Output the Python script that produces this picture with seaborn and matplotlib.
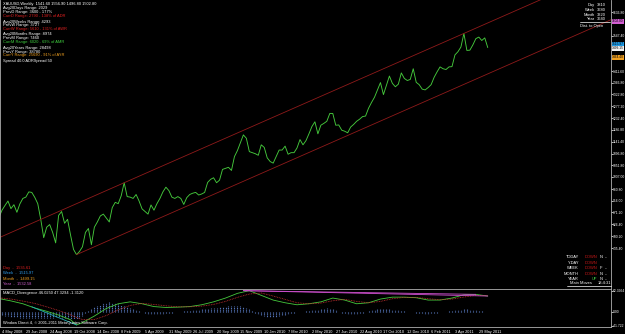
import numpy as np
import pandas as pd
import matplotlib
matplotlib.use("Agg")
import matplotlib.pyplot as plt
import matplotlib.transforms as mtrans
import seaborn as sns

# ---------------- data ----------------
# weekly closes, bar index -1 (27 Apr 2008) ... 163 (19 Jun 2011)
closes = [853, 880, 898, 915, 886, 901, 872, 904, 925, 930, 950, 948, 929, 905, 845, 775,
          815, 825, 795, 755, 860, 875, 830, 845, 785, 730, 710, 722, 740, 795, 810, 748,
          815, 835, 858, 865, 850, 835, 890, 910, 905, 935, 985, 932, 930, 925, 940, 915,
          885, 875, 865, 900, 880, 905, 925, 950, 968, 955, 930, 925, 932, 925, 902, 928,
          940, 945, 948, 938, 942, 948, 986, 998, 1004, 985, 995, 1036, 1040, 1044, 1032,
          1085, 1108, 1138, 1168, 1155, 1104, 1100, 1096, 1090, 1130, 1120, 1080, 1066, 1060,
          1085, 1110, 1110, 1125, 1094, 1100, 1100, 1118, 1150, 1130, 1146, 1172, 1200, 1218,
          1172, 1205, 1212, 1220, 1250, 1250, 1205, 1206, 1186, 1182, 1176, 1198, 1208, 1220,
          1228, 1238, 1240, 1270, 1292, 1312, 1340, 1368, 1322, 1358, 1393, 1365, 1352, 1362,
          1405, 1384, 1376, 1380, 1421, 1369, 1360, 1343, 1340, 1349, 1360, 1388, 1409, 1428,
          1421, 1418, 1428, 1429, 1474, 1486, 1504, 1556, 1491, 1492, 1512, 1536, 1542, 1529,
          1539, 1502]
first_bar = -1

# channel: upper line through two peaks, lower parallel through the low
channel_upper_idx = [41, 155]
channel_upper_price = [985, 1556]
channel_lower_idx = 25
channel_lower_price = 710

# MACD sub-window
macd_idx = [-1, 3, 7, 11, 15, 19, 23, 25, 27, 31, 35, 39, 43, 47, 51, 55, 59, 63, 67, 71, 75,
            79, 83, 87, 91, 95, 99, 103, 107, 111, 115, 119, 123, 127, 131, 135, 139, 143,
            147, 151, 155, 159, 163]
macd_main = [38.5, 31.5, 23, 10.4, 0.6, -10.7, -24.7, -40, -33, -13.5, 9, 23, 28.7, 23, 14.6,
             12, 13, 14.6, 20, 28.7, 40, 54, 62, 48, 34, 26, 20, 23, 28.7, 40, 34, 23, 26, 37,
             42.7, 42.7, 41, 34, 34, 40, 49.8, 51, 46]
macd_signal = [41, 37, 31, 24, 14, 3, -10, -18, -24, -24, -12, 5, 18, 24, 21, 17, 14, 14, 16,
               21, 30, 42, 52, 55, 46, 36, 26, 23, 25, 32, 36, 30, 26, 30, 38, 42, 42, 38, 35,
               37, 43, 48, 47.3]
macd_hist = [-8, -10, -12, -14, -15, -16, -17, -18, -18, -19, -19, -20,
             -20, -20, -19, -19, -18, -18, -18, -17, -17, -18, -19, -20,
             -21, -22, -22, -18, -12, -5, 2, 8,
             12, 16, 20, 24, 26, 27, 26, 24, 22, 19, 16, 13,
             10, 7, 4, 1, -2, -4, -6, -7, -8, -8, -7, -6,
             -5, -4, -3, -2, -1, 0, 1, 1, 2, 3, 4, 5,
             6, 7, 8, 9, 10, 11, 12, 13, 14, 15, 15, 16,
             16, 15, 13, 10, 6, 2, -3, -7, -10, -13, -15, -16,
             -16, -15, -13, -11, -9, -7, -5, -3, -2, -1, 0, 1,
             2, 3, 4, 5, 7, 8, 9, 8, 6, 3, 0, -3,
             -5, -7, -8, -8, -7, -5, -3, -1, 1, 3, 5, 7,
             8, 8, 7, 6, 5, 4, 3, 2, 1, 0, -1, -2,
             -3, -4, -5, -6, -6, -5, -4, -3, -2, -1, 0, 1,
             2, 3, 4, 5, 6, 6, 5, 4, 3, 2, 1, 0, -1]
div_pink_idx = [[81, 159], [81, 163]]
div_pink_val = [[62, 51], [62, 46]]
div_cyan_idx = [10, 25]
div_cyan_val = [14, -40]

price_ticks = [735.40, 780.20, 826.40, 871.20, 916.00, 960.80, 1007.00, 1051.80, 1096.80,
               1141.40, 1186.80, 1232.40, 1277.20, 1322.80, 1366.80, 1411.60, 1547.40, 1636.80]
macd_ticks = [62.3964, 0.0, -41.722]
macd_tick_labels = ["62.3964", "0.00", "-41.722"]

date_labels = ["4 May 2008", "29 Jun 2008", "24 Aug 2008", "19 Oct 2008", "14 Dec 2008",
               "8 Feb 2009", "5 Apr 2009", "31 May 2009", "26 Jul 2009", "20 Sep 2009",
               "15 Nov 2009", "10 Jan 2010", "7 Mar 2010", "2 May 2010", "27 Jun 2010",
               "22 Aug 2010", "17 Oct 2010", "12 Dec 2010", "6 Feb 2011", "3 Apr 2011",
               "29 May 2011"]
date_idx = [8 * k for k in range(len(date_labels))]

price_tags = [1602.00, 1515.97, 1499.15, 1464.40]
price_tag_colors = ["#d35fd3", "#1e9be6", "#f2f2f2", "#f0a020"]

# ---------------- styling ----------------
sns.set_style("dark", {"axes.facecolor": "black", "figure.facecolor": "black"})
plt.rcParams["font.family"] = ["Liberation Sans", "DejaVu Sans"]

W, H = 625, 334
fig = plt.figure(figsize=(W / 100, H / 100), dpi=100, facecolor="black")


def fx(px):
    return px / W


def fy(py):
    return 1 - py / H


FS = 2.9
AXFS = 2.45
WHITE = "#ffffff"
GREY = "#b0b0b0"
CHAN = "#8e1a1a"

# pixel <-> data mapping
x_per_bar = 2.98
x0_px = 2.0
xlim = ((0 - x0_px) / x_per_bar, (611 - x0_px) / x_per_bar)
p_per_px = (1636.8 - 735.4) / (248.0 - 12.3)
ylim_main = (1636.8 - (289 - 12.3) * p_per_px, 1636.8 + 12.3 * p_per_px)

ax = fig.add_axes([0, fy(289), fx(611), 289 / H])
ax.set_facecolor("black")
ax.set_xlim(*xlim)
ax.set_ylim(*ylim_main)

idx = np.arange(first_bar, first_bar + len(closes))
df = pd.DataFrame({"bar": idx, "close": closes})
sns.lineplot(data=df, x="bar", y="close", ax=ax, color="#45c83c", linewidth=0.65)

slope = (channel_upper_price[1] - channel_upper_price[0]) / (channel_upper_idx[1] - channel_upper_idx[0])
xr = xlim[1] + 5
up_x = [first_bar, xr]
up_y = [channel_upper_price[0] + slope * (v - channel_upper_idx[0]) for v in up_x]
lo_x = [channel_lower_idx, xr]
lo_y = [channel_lower_price + slope * (v - channel_lower_idx) for v in lo_x]
sns.lineplot(x=up_x, y=up_y, ax=ax, color=CHAN, linewidth=0.6)
sns.lineplot(x=lo_x, y=lo_y, ax=ax, color=CHAN, linewidth=0.6)

ax.set_xlabel("")
ax.set_ylabel("")
ax.set_xticks([])
ax.yaxis.tick_right()
ax.set_yticks(price_ticks)
ax.set_yticklabels([f"{v:.2f}" for v in price_ticks])
ax.tick_params(axis="y", colors=WHITE, labelsize=AXFS, length=1.2, width=0.5, pad=0.3,
               labelcolor=WHITE, right=True, left=False)
ax.spines["top"].set_visible(False)
for s in ["left", "right", "bottom"]:
    ax.spines[s].set_visible(True)
    ax.spines[s].set_color(GREY)
    ax.spines[s].set_linewidth(0.6)
ax.grid(False)

blend = mtrans.blended_transform_factory(ax.transAxes, ax.transData)
for val, col in zip(price_tags, price_tag_colors):
    ax.text(1.0015, val, f"{val:.2f}", transform=blend, fontsize=AXFS * 0.95, color="black",
            va="center", ha="left", clip_on=False,
            bbox=dict(facecolor=col, edgecolor="none", pad=0.25))

# ---------------- MACD ----------------
m_per_px = (62.3964 + 41.722) / (326.5 - 291.5)
zero_px = 311.5
axm = fig.add_axes([0, fy(327), fx(611), (327 - 289.5) / H])
axm.set_facecolor("black")
axm.set_xlim(*xlim)
axm.set_ylim(-(327 - zero_px) * m_per_px, (zero_px - 289.5) * m_per_px)
hidx = np.arange(first_bar, first_bar + len(macd_hist))
axm.vlines(hidx, 0, macd_hist, color="#5a7cc4", linewidth=0.8, linestyles=(0, (1, 0.6)))
sns.lineplot(x=macd_idx, y=macd_main, ax=axm, color="#45c83c", linewidth=0.6)
sns.lineplot(x=macd_idx, y=macd_signal, ax=axm, color="#c83030", linewidth=0.6,
             linestyle=(0, (1, 1)))
for xs, ys in zip(div_pink_idx, div_pink_val):
    sns.lineplot(x=xs, y=ys, ax=axm, color="#d050d0", linewidth=0.6)
sns.lineplot(x=div_cyan_idx, y=div_cyan_val, ax=axm, color="#20b0b0", linewidth=0.6)

axm.set_xlabel("")
axm.set_ylabel("")
axm.yaxis.tick_right()
axm.set_yticks(macd_ticks)
axm.set_yticklabels(macd_tick_labels)
axm.tick_params(axis="y", colors=WHITE, labelsize=AXFS, length=1.2, width=0.5, pad=0.3,
                right=True, left=False)
axm.set_xticks(date_idx)
axm.set_xticklabels(date_labels, ha="left")
axm.tick_params(axis="x", colors=WHITE, labelsize=FS * 0.95, length=2, width=0.5, pad=0.3)
axm.spines["top"].set_visible(False)
for s in ["left", "right", "bottom"]:
    axm.spines[s].set_visible(True)
    axm.spines[s].set_color(GREY)
    axm.spines[s].set_linewidth(0.6)
axm.grid(False)

# ---------------- texts ----------------
def t(px, py, s, color=WHITE, ha="left", fs=FS):
    fig.text(fx(px), fy(py), s, color=color, ha=ha, va="center", fontsize=fs)


t(3, 4, "XAUUSD,Weekly  1541.60 1556.90 1496.80 1502.80")
left_lines = [
    (8, "Avg20Days Range: 2029", WHITE),
    (12, "PrevD Range: 3600 - 177%", WHITE),
    (15.6, "CurrD Range: 2790 - 138% of ADR", "#e02020"),
    (21.5, "Avg20Weeks Range: 4293", WHITE),
    (25.3, "PrevW Range: 3727", WHITE),
    (29, "CurrW Range: 5610 - 131% of AWR", "#e02020"),
    (34.5, "Avg20Months Range: 8974", WHITE),
    (38.3, "PrevM Range: 7460", WHITE),
    (42, "CurrM Range: 6020 - 69% of AMR", "#40d040"),
    (47.8, "Avg20Years Range: 28498", WHITE),
    (51.6, "PrevY Range: 38780", WHITE),
    (55.4, "CurrY Range: 25690 - 91% of AYR", "#f0a020"),
    (61, "Spread 40.0 ADRSpread 50", WHITE),
]
for py, s, c in left_lines:
    t(3, py, s, c)

for py, lab, val in [(5, "Day", "3810"), (10, "Week", "3680"), (15, "Month", "3320"),
                     (19.3, "Year", "3640")]:
    t(595, py, lab, ha="right")
    t(597, py, val)
fig.add_artist(plt.Line2D([fx(580), fx(610)], [fy(21.8), fy(21.8)], color=WHITE, linewidth=0.5))
t(580, 25.5, "Dist. to Open")

for py, lab, val, c in [(267.7, "Day", "1535.61", "#e02020"), (273.3, "Week", "1515.97", "#2f9ff0"),
                        (279, "Month", "1499.15", "#f0a020"), (284.3, "Year", "1532.58", "#d060d0")]:
    t(3, py, f"{lab}  -  {val}", c)

for py, lab, st, c, a, b in [(257.3, "TODAY", "DOWN", "#c81818", "N", "--"),
                             (262.7, "Y-DAY", "DOWN", "#c81818", "", ""),
                             (268.3, "WEEK", "DOWN", "#c81818", "F", "--"),
                             (274, "MONTH", "DOWN", "#c81818", "N", "--"),
                             (279.3, "YEAR", "UP", "#40c040", "N", "--")]:
    t(579, py, lab, ha="right")
    t(597, py, st, c, ha="right")
    if a:
        t(600, py, a)
        t(605, py, b)
t(570, 283.3, "Main Moves")
t(598, 283.3, "18:4:31")
fig.add_artist(plt.Line2D([fx(567), fx(611)], [fy(286.3), fy(286.3)], color=WHITE, linewidth=0.5))

t(3, 293, "MACD_Divergence 46.0250 47.3294 -1.3120")
t(3, 323, "Window Direct 4, \u00a9 2001-2011 MetaQuotes Software Corp.")

fig.savefig("out.png", dpi=100, facecolor="black")
